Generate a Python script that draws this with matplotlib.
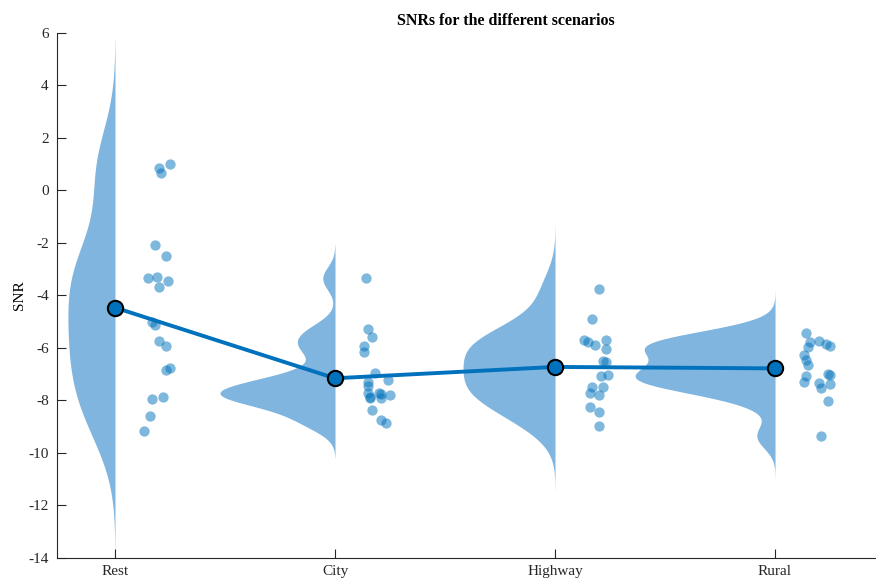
import numpy as np
import matplotlib.pyplot as plt

plt.rcParams['font.family'] = ['Liberation Serif', 'DejaVu Serif']
plt.rcParams['axes.unicode_minus'] = False

# scenarios and SNR values
scenarios = ['Rest', 'City', 'Highway', 'Rural']

snr_rest = [1.01, 0.85, 0.65, -2.08, -2.48, -3.32, -3.30, -3.43, -3.69, -5.02,
            -5.12, -5.73, -5.91, -6.84, -6.78, -7.95, -7.88, -8.58, -9.16]
snr_city = [-3.35, -5.29, -5.58, -5.92, -6.17, -6.97, -7.23, -7.30, -7.45, -7.73,
            -7.85, -7.73, -7.76, -7.79, -7.92, -7.90, -8.36, -8.74, -8.87]
snr_highway = [-3.74, -4.91, -5.70, -5.78, -5.89, -5.70, -6.04, -6.48, -6.55,
               -7.07, -7.03, -7.50, -7.47, -7.70, -7.79, -8.24, -8.43, -8.96]
snr_rural = [-5.44, -5.76, -5.73, -5.84, -5.91, -5.98, -6.27, -6.46, -6.65,
             -7.05, -7.28, -7.32, -7.51, -6.99, -7.03, -7.37, -8.02, -9.36]

# horizontal jitter of the rain drops (x units right of each category)
jit_rest = [0.25, 0.20, 0.21, 0.18, 0.23, 0.15, 0.19, 0.24, 0.20, 0.17,
            0.18, 0.20, 0.23, 0.23, 0.25, 0.17, 0.22, 0.16, 0.13]
jit_city = [0.14, 0.15, 0.17, 0.13, 0.13, 0.18, 0.24, 0.15, 0.15, 0.15,
            0.16, 0.20, 0.21, 0.25, 0.21, 0.16, 0.17, 0.21, 0.23]
jit_highway = [0.20, 0.17, 0.13, 0.15, 0.18, 0.23, 0.23, 0.22, 0.23,
               0.21, 0.24, 0.17, 0.22, 0.16, 0.20, 0.16, 0.20, 0.20]
jit_rural = [0.14, 0.16, 0.20, 0.23, 0.25, 0.15, 0.13, 0.14, 0.15,
             0.14, 0.13, 0.20, 0.21, 0.24, 0.25, 0.25, 0.24, 0.21]

# widest point of each cloud (x units) as seen in the reference
cloud_width = [0.214, 0.523, 0.418, 0.636]

groups = [snr_rest, snr_city, snr_highway, snr_rural]
jitters = [jit_rest, jit_city, jit_highway, jit_rural]

blue = '#0072BD'
cloud = '#7FB5DE'


def ksdensity(x, adj=1.0):
    # gaussian kernel, MAD based normal-reference bandwidth
    x = np.asarray(x)
    n = len(x)
    sig = np.median(np.abs(x - np.median(x))) / 0.6745
    u = sig * (4 / (3 * n)) ** 0.2
    xi = np.linspace(x.min() - 3 * u, x.max() + 3 * u, 200)
    h = u * adj
    f = np.exp(-0.5 * ((xi[:, None] - x[None, :]) / h) ** 2).sum(1) / (n * h * np.sqrt(2 * np.pi))
    return xi, f


fig = plt.figure(figsize=(8.76, 5.78), dpi=100)
ax = fig.add_axes([57 / 876, 20 / 578, 819 / 876, 525 / 578])

bw_adj = [1.0, 1.0, 0.9, 0.85]
pos = np.arange(1, len(groups) + 1)
for p, g, j, w, a in zip(pos, groups, jitters, cloud_width, bw_adj):
    yi, f = ksdensity(g, a)
    ax.fill_betweenx(yi, p - f / f.max() * w, p, color=cloud, lw=0, zorder=1)
    ax.scatter(p + np.asarray(j), g, s=55, color=blue, alpha=0.5, lw=0, zorder=3)

means = [np.mean(g) for g in groups]
ax.plot(pos, means, color=blue, lw=2.8, zorder=4)
ax.plot(pos, means, 'o', ms=11, mfc=blue, mec='k', mew=1.5, zorder=5)

ax.set_xlim(0.7364, 4.459)
ax.set_ylim(-14, 6)
ax.set_xticks(pos)
ax.set_xticklabels(scenarios)
ax.set_yticks(np.arange(-14, 7, 2))
ax.tick_params(direction='in', length=6.5, width=0.8, labelsize=11, colors='#262626')
ax.tick_params(axis='x', pad=5)
ax.tick_params(axis='y', pad=6)
for s in ['top', 'right']:
    ax.spines[s].set_visible(False)
for s in ['left', 'bottom']:
    ax.spines[s].set_color('#262626')
ax.set_ylabel('SNR', fontsize=11, labelpad=2)
ax.set_title('SNRs for the different scenarios', fontsize=11.5, fontweight='bold', x=0.548, pad=6)

fig.savefig('out.png', dpi=100)
